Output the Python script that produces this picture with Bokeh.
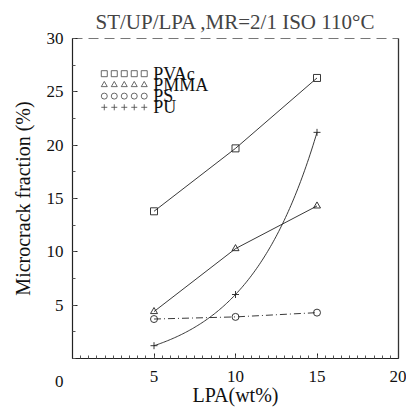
import numpy as np
from bokeh.plotting import figure
from bokeh.models import LinearAxis, FixedTicker, Range1d
from bokeh.core.properties import value
from bokeh.embed import file_html
from bokeh.resources import INLINE

# ---- data ----
lpa = [5, 10, 15]
pvac = [13.8, 19.7, 26.3]
pmma = [4.4, 10.3, 14.3]
ps = [3.7, 3.9, 4.3]
pu = [1.2, 6.0, 21.2]
series_names = ["PVAc", "PMMA", "PS", "PU"]
series_markers = ["square", "triangle", "circle", "cross"]
x_ticks = [0, 5, 10, 15, 20]
y_ticks = [0, 5, 10, 15, 20, 25, 30]
title_text = "ST/UP/LPA ,MR=2/1 ISO 110°C"
x_label = "LPA(wt%)"
y_label = "Microcrack fraction (%)"

FONT = "Liberation Serif"

p = figure(width=406, height=408, output_backend="svg", toolbar_location=None,
           x_range=Range1d(0, 20), y_range=Range1d(0, 30),
           min_border_left=72, min_border_right=8, min_border_top=38, min_border_bottom=40,
           title=title_text)
p.title.text_font = FONT
p.title.text_font_size = "21px"
p.title.text_font_style = "normal"
p.title.align = "center"
p.title.offset = 2
p.outline_line_color = None
p.xgrid.visible = False
p.ygrid.visible = False
p.background_fill_color = "white"
p.border_fill_color = "white"

# axes
xa = p.xaxis[0]
xa.ticker = FixedTicker(ticks=x_ticks, minor_ticks=list(np.arange(0, 20.01, 0.5)))
xa.major_label_overrides = {0: ""}
xa.axis_label = x_label
ya = p.yaxis[0]
ya.ticker = FixedTicker(ticks=y_ticks, minor_ticks=list(np.arange(0, 30.01, 2.5)))
# the single "0" of the reference sits below the corner, under the y labels
ya.major_label_overrides = {0: "\n\n0"}
ya.axis_label = y_label
for ax in (xa, ya):
    ax.axis_line_color = "#222222"
    ax.axis_line_width = 1.2
    ax.major_tick_in = 5
    ax.major_tick_out = 0
    ax.minor_tick_in = 3
    ax.minor_tick_out = 0
    ax.major_tick_line_color = "#222222"
    ax.minor_tick_line_color = "#555555"
    ax.major_label_text_font = FONT
    ax.major_label_text_font_size = "17px"
    ax.major_label_text_color = "#111111"
    ax.axis_label_text_font = FONT
    ax.axis_label_text_font_size = "20px"
    ax.axis_label_text_font_style = "normal"
    ax.axis_label_text_color = "#111111"
xa.major_label_standoff = 12
xa.axis_label_standoff = -1
ya.major_label_standoff = 9
ya.axis_label_standoff = 10

top = LinearAxis(ticker=FixedTicker(ticks=[]), major_tick_line_color=None,
                 minor_tick_line_color=None, axis_line_color="#777777",
                 axis_line_dash="10 6", axis_line_width=1)
p.add_layout(top, "above")
right = LinearAxis(ticker=FixedTicker(ticks=[]), major_tick_line_color=None,
                   minor_tick_line_color=None, axis_line_color="#333333",
                   axis_line_width=1.3)
p.add_layout(right, "right")

lw = 0.9
col = "#222222"
# PVAc
p.line(lpa, pvac, line_color=col, line_width=lw)
# PMMA
p.line(lpa, pmma, line_color=col, line_width=lw)
# PS dash-dot
p.line(lpa, ps, line_color=col, line_width=lw, line_dash="7 3 1 3")
# PU: exponential curve through the three measured points
r = (pu[2] - pu[1]) / (pu[1] - pu[0])
k = np.log(r) / (lpa[1] - lpa[0])
A = (pu[1] - pu[0]) / (r - 1)
c = pu[0] - A
xc = np.linspace(lpa[0], lpa[2], 120)
p.line(xc, c + A * np.exp(k * (xc - lpa[0])), line_color=col, line_width=lw)

for ys, mk in zip([pvac, pmma, ps, pu], series_markers):
    p.scatter(lpa, ys, marker=mk, size=7, fill_color=None, line_color=col, line_width=0.9)

# hand-drawn style legend: row of 5 small markers followed by the name
leg_x = np.linspace(1.95, 4.4, 5)
leg_y = [26.7, 25.65, 24.6, 23.55]
for name, mk, yy in zip(series_names, series_markers, leg_y):
    p.scatter(leg_x, [yy] * 5, marker=mk, size=6, fill_color=None, line_color="#444444", line_width=0.8)
    p.text([4.95], [yy], text=[name], text_font=value(FONT), text_font_size="18px",
           text_color="#111111", text_baseline="middle", text_align="left")

open("out.html", "w").write(file_html(p, INLINE))
